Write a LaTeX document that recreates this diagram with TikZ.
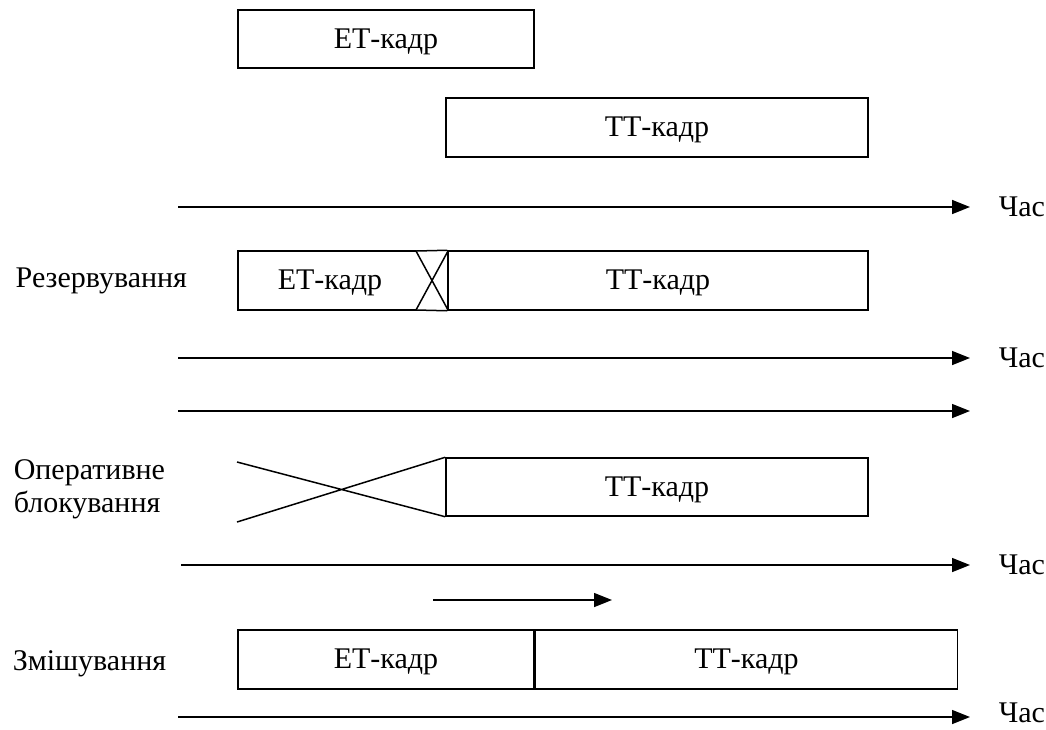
\documentclass[tikz,border=0pt]{standalone}
\usepackage{fontspec}
\setmainfont{Liberation Serif}
\usetikzlibrary{arrows.meta}
\begin{document}
\begin{tikzpicture}[x=1pt,y=-1pt,
  line width=1.5pt,
  txt/.style={font=\fontsize{30}{33}\selectfont, inner sep=0pt},
  frame/.style={draw, line width=1.5pt, inner sep=0pt,
    text height=18pt, text depth=0pt, font=\fontsize{30}{33}\selectfont},
  timeaxis/.style={-{Triangle[length=18pt,width=14pt]}, line width=1.5pt},
  lbl/.style={txt, anchor=base west}]
\useasboundingbox (0,0) rectangle (1046,729);

% --- separate frames ---
\node[frame, minimum width=296, minimum height=58] (et1) at (386,39) {ЕТ-кадр};
\node[frame, minimum width=422, minimum height=59] (tt1) at (657,127.5) {ТТ-кадр};
\coordinate (a1s) at (178,207); \coordinate (a1e) at (970,207);
\draw[timeaxis] (a1s) -- (a1e);
\node[lbl] (t1) at (998,216) {Час};

% --- reservation ---
\node[lbl] (res) at (15,287) {Резервування};
\coordinate (r1) at (238,251); \coordinate (r2) at (238,310);
\coordinate (xa) at (416,251); \coordinate (xb) at (448,251);
\coordinate (xc) at (416,310); \coordinate (xd) at (448,310);
\draw (xa) -- (r1) -- (r2) -- (xc);
\draw (xa) -- (xd) (xb) -- (xc);
\node[frame, minimum width=420, minimum height=59] (tt2) at (658,280.5) {ТТ-кадр};
\draw (xa) -- (tt2.north west) (xc) -- (tt2.south west);
\node[txt, anchor=base] (et2) at (330,289) {ЕТ-кадр};
\coordinate (a2s) at (178,358); \coordinate (a2e) at (970,358);
\draw[timeaxis] (a2s) -- (a2e);
\node[lbl] (t2) at (998,367) {Час};

% --- pre-emptive blocking ---
\coordinate (a3s) at (178,411); \coordinate (a3e) at (970,411);
\draw[timeaxis] (a3s) -- (a3e);
\node[lbl] (op1) at (13,479) {Оперативне};
\node[lbl] (op2) at (13,512) {блокування};
\node[frame, minimum width=422, minimum height=58] (tt3) at (657,487) {ТТ-кадр};
\coordinate (c1) at (237,462); \coordinate (c2) at (237,522);
\draw (c1) -- (tt3.south west) (c2) -- (tt3.north west);
\coordinate (a4s) at (181,565); \coordinate (a4e) at (970,565);
\draw[timeaxis] (a4s) -- (a4e);
\node[lbl] (t4) at (998,574) {Час};

% --- mixing ---
\coordinate (m1) at (433,600); \coordinate (m2) at (612,600);
\draw[timeaxis] (m1) -- (m2);
\node[lbl] (mix) at (12,670) {Змішування};
\node[frame, minimum width=296, minimum height=59] (et4) at (386,659.5) {ЕТ-кадр};
\node[frame, minimum width=422, minimum height=59, anchor=west] (tt4) at (et4.east) {ТТ-кадр};
\coordinate (a5s) at (178,717); \coordinate (a5e) at (970,717);
\draw[timeaxis] (a5s) -- (a5e);
\node[lbl] (t5) at (998,722) {Час};
\end{tikzpicture}
\end{document}
